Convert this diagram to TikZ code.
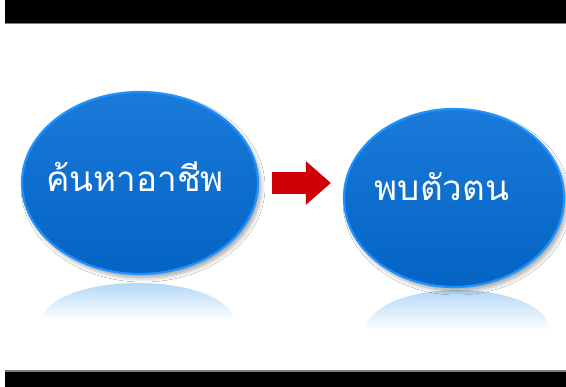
\documentclass[tikz,border=0pt]{standalone}
\usepackage{fontspec}
\newfontfamily\thaifont[Script=Thai]{Loma}
\usetikzlibrary{shapes.geometric,shadows.blur,arrows.meta}
\definecolor{bubbletop}{RGB}{26,122,218}
\definecolor{bubblebottom}{RGB}{4,100,196}
\definecolor{bubblerim}{RGB}{30,146,255}
\definecolor{arrowred}{RGB}{206,0,6}
\definecolor{glowblue}{RGB}{180,216,246}

\begin{document}
\begin{tikzpicture}[x=1pt,y=1pt,
  bubble/.style={ellipse, inner sep=0pt, top color=bubbletop, bottom color=bubblebottom,
    draw=bubblerim, line width=2.2pt,
    blur shadow={shadow xshift=3pt, shadow yshift=-4pt, shadow opacity=35, shadow blur radius=4pt}},
  bubbletext/.style={text=white, font=\thaifont\fontsize{35}{42}\selectfont},
  mirror/.style={top color=glowblue, bottom color=white},
  blockarrow/.style={arrowred, line width=22pt, -{Triangle[length=25pt, width=42pt]}}]

  % page and the black bars
  \useasboundingbox (0,0) rectangle (566,387);
  \fill[white] (0,0) rectangle (566,387);
  \fill[black] (5,364) rectangle (566,387);
  \fill[gray] (5,362.5) rectangle (566,364);
  \fill[black] (5,0) rectangle (566,15);
  \fill[gray] (5,15) rectangle (566,16.5);

  % reflections under the bubbles
  \shade[mirror] (43,67) arc[start angle=180, end angle=0, x radius=95, y radius=37] -- cycle;
  \shade[mirror] (366,57) arc[start angle=180, end angle=0, x radius=92, y radius=40] -- cycle;

  % the two bubbles
  \node[bubble, minimum width=236pt, minimum height=182pt] (seek) at (140,204) {};
  \node[bubble, minimum width=220pt, minimum height=178pt] (find) at (454,189) {};

  \node[bubbletext] (seektext) at ([shift={(-5,6)}]seek.center) {ค้นหาอาชีพ};
  \node[bubbletext] (findtext) at ([shift={(-12,11)}]find.center) {พบตัวตน};

  % arrow from one to the other
  \draw[blockarrow] ([xshift=13pt]seek.east) -- ([xshift=-12pt]seek.east -| find.west);
\end{tikzpicture}
\end{document}
